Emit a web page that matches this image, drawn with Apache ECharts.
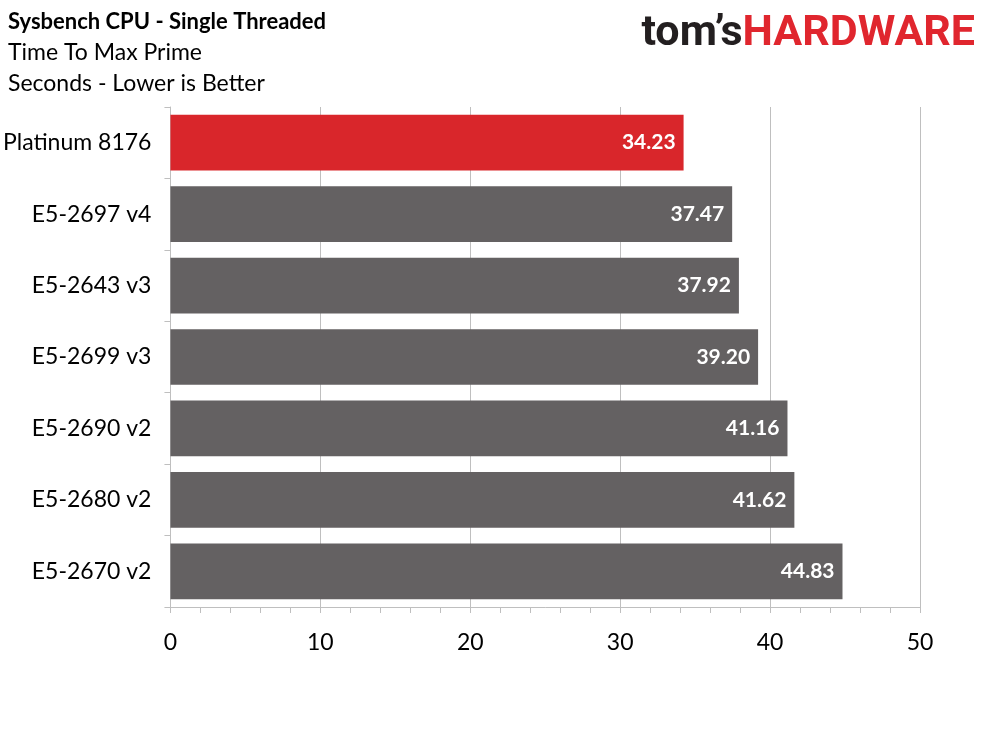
<!DOCTYPE html>
<html>
<head>
<meta charset="utf-8">
<script src="https://cdn.jsdelivr.net/npm/echarts@6/dist/echarts.min.js"></script>
<style>
  html, body { margin: 0; padding: 0; background: #fff; }
  #chart { width: 989px; height: 741px; }
</style>
</head>
<body>
<div id="chart"></div>
<script>
// 데이터
var categories = ['Platinum 8176', 'E5-2697 v4', 'E5-2643 v3', 'E5-2699 v3', 'E5-2690 v2', 'E5-2680 v2', 'E5-2670 v2'];
var seconds = [34.23, 37.47, 37.92, 39.20, 41.16, 41.62, 44.83];
var highlight = 'Platinum 8176';
var titleLines = ['Sysbench CPU - Single Threaded', 'Time To Max Prime', 'Seconds - Lower is Better'];

var FONT = 'Lato, "Noto Sans", sans-serif';

var myChart = echarts.init(document.getElementById('chart'));

var barData = seconds.map(function (v, i) {
    return {
        value: v,
        itemStyle: { color: categories[i] === highlight ? '#d9262b' : '#646162' }
    };
});

var option = {
    backgroundColor: '#ffffff',
    animation: false,
    textStyle: { fontFamily: FONT },
    grid: {
        left: 170,
        right: 69,
        top: 107,
        bottom: 134
    },
    graphic: [
        {
            type: 'text', left: 8, top: 11,
            style: { text: titleLines[0], font: 'bold 22px ' + FONT, fill: '#000' }
        },
        {
            type: 'text', left: 8, top: 41,
            style: { text: titleLines[1], font: '23px ' + FONT, fill: '#000' }
        },
        {
            type: 'text', left: 8, top: 72,
            style: { text: titleLines[2], font: '23px ' + FONT, fill: '#000' }
        },
        {
            type: 'text', right: 14, top: 13,
            style: {
                text: '{a|tom\u2019s}{b|HARDWARE}',
                rich: {
                    a: { font: 'bold 43px Roboto, sans-serif', fill: '#231f20' },
                    b: { font: 'bold 43px Roboto, sans-serif', fill: '#e0262e' }
                }
            }
        }
    ],
    xAxis: {
        type: 'value',
        min: 0,
        max: 50,
        interval: 10,
        axisLine: { show: true, lineStyle: { color: '#bfbfbf', width: 1 } },
        axisTick: { show: true, length: 6, lineStyle: { color: '#bfbfbf' } },
        minorTick: { show: true, splitNumber: 5, length: 6, lineStyle: { color: '#bfbfbf' } },
        splitLine: { show: true, lineStyle: { color: '#bfbfbf', width: 1 } },
        axisLabel: { color: '#000', fontSize: 23, margin: 24, fontFamily: FONT }
    },
    yAxis: {
        type: 'category',
        data: categories,
        inverse: true,
        axisLine: { show: true, lineStyle: { color: '#bfbfbf', width: 1 } },
        axisTick: { show: true, length: 6, alignWithLabel: false, lineStyle: { color: '#bfbfbf' } },
        axisLabel: { color: '#000', fontSize: 23, margin: 19, fontFamily: FONT }
    },
    series: [
        {
            name: 'Seconds',
            type: 'bar',
            data: barData,
            barCategoryGap: '22%',
            label: {
                show: true,
                position: 'insideRight',
                distance: 8,
                color: '#fff',
                fontWeight: 'bold',
                fontSize: 21,
                fontFamily: FONT,
                formatter: function (p) { return p.value.toFixed(2); }
            }
        }
    ]
};
myChart.setOption(option);
window.addEventListener('resize', myChart.resize);
</script>
</body>
</html>
